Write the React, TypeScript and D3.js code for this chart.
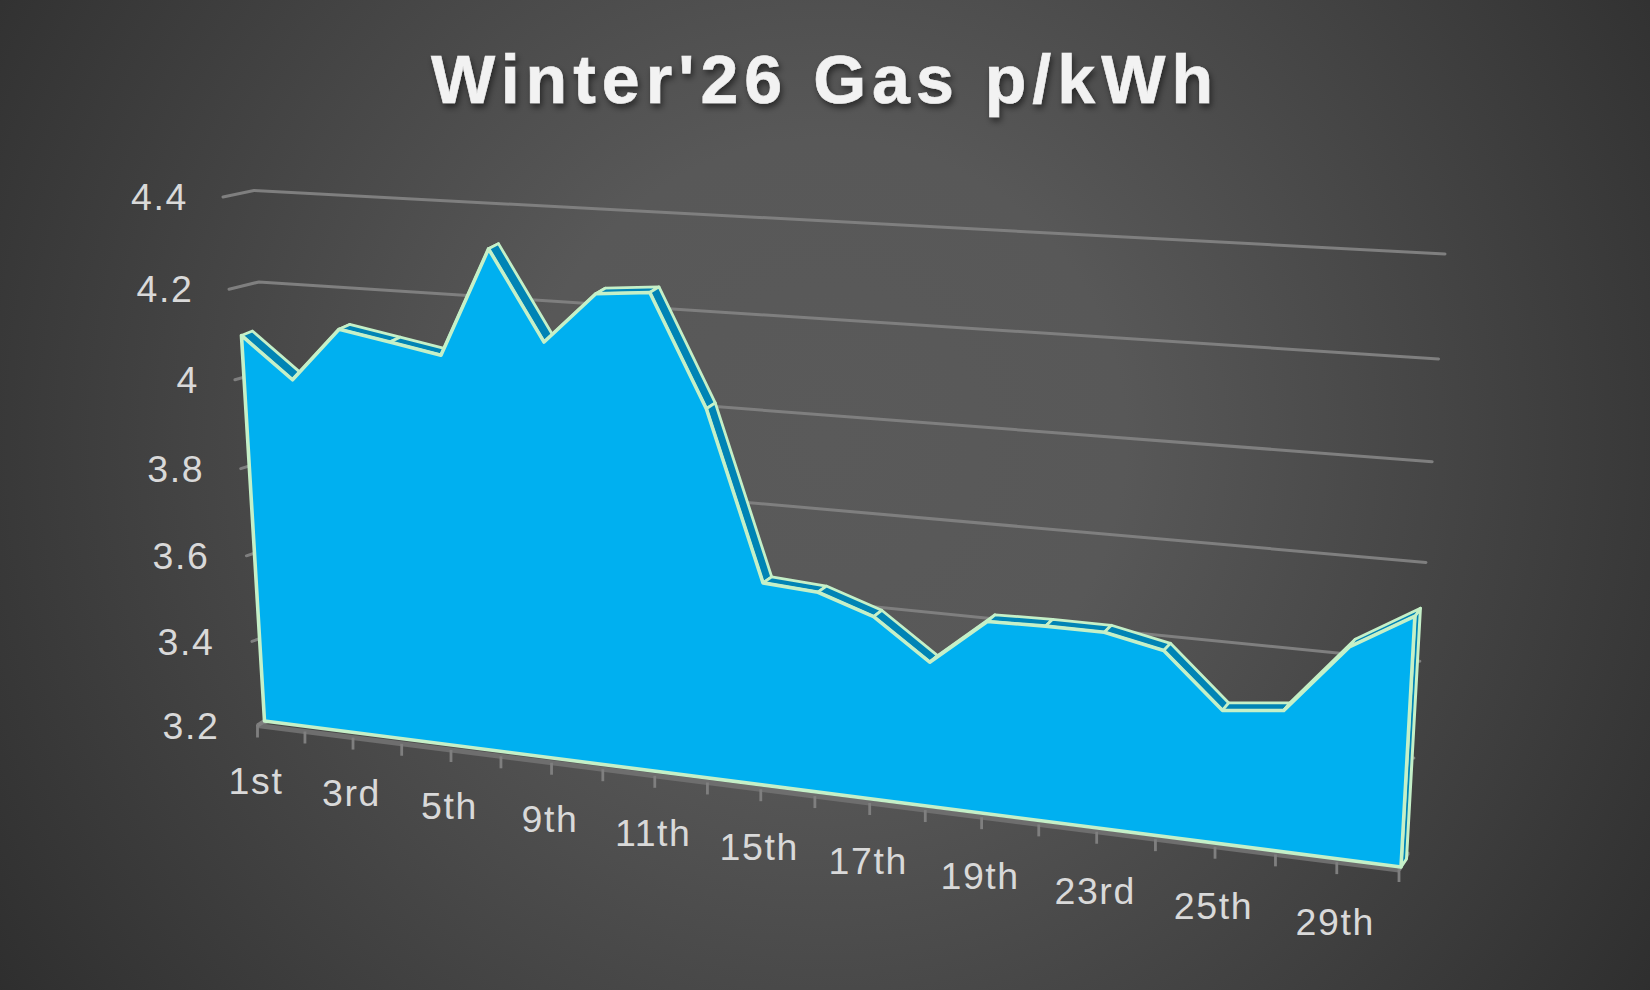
import React from 'react';
import * as d3 from 'd3';

const titleText = "Winter'26 Gas p/kWh";
const categories = ['1st','2nd','3rd','4th','5th','8th','9th','10th','11th','12th','15th','16th','17th','18th','19th','22nd','23rd','24th','25th','26th','29th','30th'];
const prices = [4.09,4.0,4.12,4.1,4.08,4.315,4.125,4.235,4.245,4.01,3.648,3.64,3.6,3.515,3.615,3.618,3.618,3.593,3.482,3.496,3.64,3.715];
const yTicks = [3.2,3.4,3.6,3.8,4.0,4.2,4.4];
const labelEvery = 2;

type Pt = [number, number];
type Plane = (u: number, w: number) => Pt;

// Maps the unit square onto a perspective quadrilateral (chart's 3D projection).
function plane(p00: Pt, p10: Pt, p11: Pt, p01: Pt): Plane {
  const [x0, y0] = p00, [x1, y1] = p10, [x2, y2] = p11, [x3, y3] = p01;
  const dx1 = x1 - x2, dx2 = x3 - x2, sx = x0 - x1 + x2 - x3;
  const dy1 = y1 - y2, dy2 = y3 - y2, sy = y0 - y1 + y2 - y3;
  const den = dx1 * dy2 - dx2 * dy1;
  const g = (sx * dy2 - dx2 * sy) / den, h = (dx1 * sy - sx * dy1) / den;
  const a = x1 - x0 + g * x1, b = x3 - x0 + h * x3, d = y1 - y0 + g * y1, e = y3 - y0 + h * y3;
  return (u, w) => {
    const q = g * u + h * w + 1;
    return [(a * u + b * w + x0) / q, (d * u + e * w + y0) / q];
  };
}

const W = 1650, H = 990;
const iScale = d3.scaleLinear().domain([0, categories.length - 1]).range([0, 1]);
const vScale = d3.scaleLinear().domain([3.2, 4.4]).range([0, 1]);

const frontPlane = plane([264.5, 721], [1401, 867], [1434.6, 262], [233, 194]);
const backPlane = plane([275.5, 716.5], [1406.5, 859], [1440.1, 254], [244, 189.5]);
const wallPlane = plane([282, 716], [1408, 853], [1445, 254], [254, 190.5]);
const axisPlane = plane([257.5, 725.5], [1399, 870], [1435, 265], [223, 197]);

const path = d3.line<Pt>();
const closed = (pts: Pt[]) => path(pts)! + 'Z';

const fill = '#00B0F0', side = '#0084B5', edge = '#C5F0C8', grid = '#7F7F7F', axisCol = '#6E6E6E', textCol = '#D9D9D9';
const font = '"Liberation Sans", Arial, sans-serif';

export default function App() {
  const last = categories.length - 1;
  const front = prices.map((v, i) => frontPlane(iScale(i), vScale(v)));
  const back = prices.map((v, i) => backPlane(iScale(i), vScale(v)));
  const frontOutline: Pt[] = [...front, frontPlane(1, 0), frontPlane(0, 0)];
  return (
    <svg width={W} height={H} viewBox={`0 0 ${W} ${H}`} style={{ position: 'absolute', left: 0, top: 0, display: 'block' }}>
      <defs>
        <radialGradient id="bg" gradientUnits="userSpaceOnUse" cx={825} cy={440} r={1000}>
          <stop offset="0" stopColor="#5A5A5A" />
          <stop offset="0.3" stopColor="#585858" />
          <stop offset="1" stopColor="#2E2E2E" />
        </radialGradient>
        <filter id="ts" x="-5%" y="-20%" width="110%" height="150%">
          <feDropShadow dx={2} dy={4} stdDeviation={3} floodColor="#000" floodOpacity={0.5} />
        </filter>
      </defs>
      <rect width={W} height={H} fill="url(#bg)" />
      <text x={431} y={102.7} fontFamily={font} fontWeight={700} fontSize={68} letterSpacing={6.05} fill="#F2F2F2" stroke="#F2F2F2" strokeWidth={0.6} filter="url(#ts)">{titleText}</text>

      {yTicks.map(v => {
        const w = vScale(v);
        const a = axisPlane(0, w), b = wallPlane(0, w), c = wallPlane(1, w);
        return (
          <g key={v}>
            <path d={path([a, b, c])!} fill="none" stroke={grid} strokeWidth={3} strokeLinejoin="round" strokeLinecap="round" />
            <text x={a[0] - 35 - 3 * (1 - w)} y={a[1]} dy="0.35em" textAnchor="end" fontFamily={font} fontSize={37.5} letterSpacing={1.6} fill={textCol}>{String(+v.toFixed(1))}</text>
          </g>
        );
      })}

      <path d={path([axisPlane(0, 0), axisPlane(1, 0)])!} stroke={axisCol} strokeWidth={5} fill="none" />
      <path d={path([axisPlane(1, 0), wallPlane(1, 0)])!} stroke={grid} strokeWidth={4} fill="none" />
      <path d={path([axisPlane(0, 0), frontPlane(0, 0)])!} stroke={grid} strokeWidth={4} fill="none" />
      {categories.map((c, i) => {
        const u = iScale(i);
        const [x, y] = axisPlane(u, 0);
        return (
          <g key={c}>
            <line x1={x} x2={x} y1={y} y2={y + 12} stroke={grid} strokeWidth={2.8} />
            {i % labelEvery === 0 && i < last && (
              <text x={x - 1.5} y={y + 68 + 5.5 * u} textAnchor="middle" fontFamily={font} fontSize={37.5} letterSpacing={1.6} fill={textCol}>{c}</text>
            )}
          </g>
        );
      })}

      <path
        d={closed([front[last], back[last], backPlane(1, 0), frontPlane(1, 0)])}
        fill={side} stroke={edge} strokeWidth={3} strokeLinejoin="round"
      />
      {prices.slice(0, last).map((_, i) => (
        <path key={i} d={closed([front[i], front[i + 1], back[i + 1], back[i]])} fill={side} stroke={edge} strokeWidth={2.8} strokeLinejoin="round" />
      ))}
      <path d={closed(frontOutline)} fill={fill} stroke={edge} strokeWidth={3.6} strokeLinejoin="round" />
    </svg>
  );
}
